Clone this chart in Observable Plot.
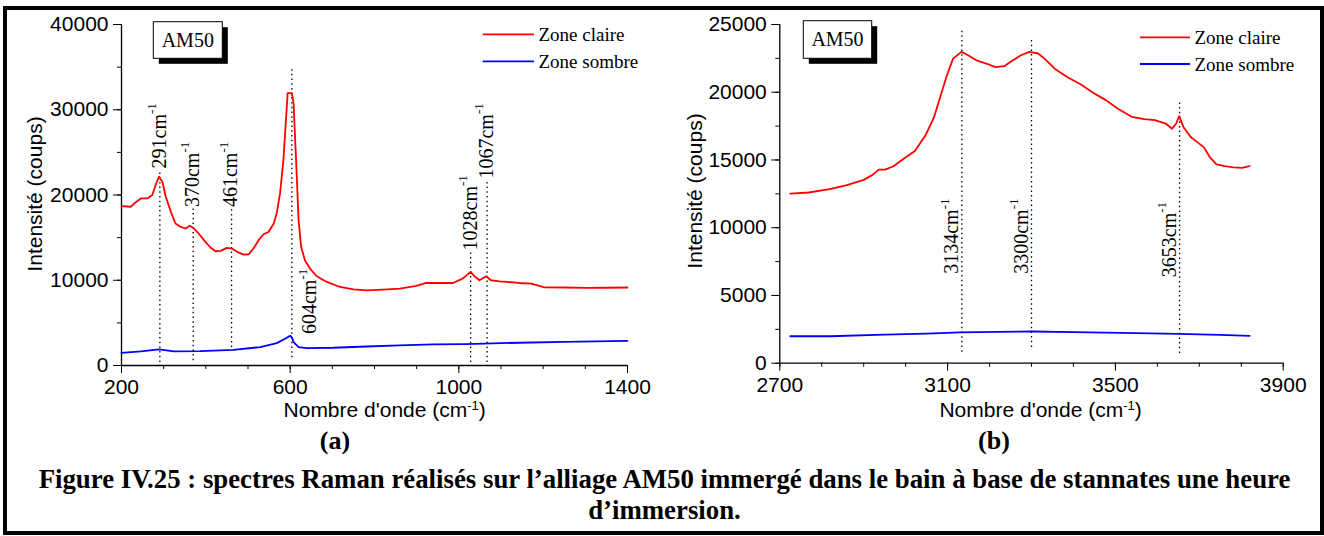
<!DOCTYPE html>
<html>
<head>
<meta charset="utf-8">
<script src="https://cdn.jsdelivr.net/npm/d3@7"></script>
<script src="https://cdn.jsdelivr.net/npm/@observablehq/plot@0.6"></script>
<style>
  body { margin: 0; background: #fff; }
  #fig { position: relative; width: 1324px; height: 536px; overflow: hidden; background: #fff; }
  #pa { position: absolute; left: 0; top: 0; width: 660px; height: 420px; }
  #pb { position: absolute; left: 660px; top: 0; width: 664px; height: 420px; }
  #over { position: absolute; left: 0; top: 0; }
  #frame { position: absolute; left: 3px; top: 6px; width: 1321px; height: 529px; border: 4px solid #000; box-sizing: border-box; }
</style>
</head>
<body>
<div id="fig">
  <div id="pa"></div>
  <div id="pb"></div>
  <svg id="over" width="1324" height="536"></svg>
  <div id="frame"></div>
</div>
<script>
// ---------- DATA ----------
// Panel (a): 200–1400 cm-1
const redA_x = [200,222,230,246,261,273,281,289,297,305,317,328,340,352,362,372,383,399,411,423,435,450,462,474,490,502,513,525,537,549,561,568,576,584,590,594,604,608,614,620,626,635,647,663,687,718,750,781,820,860,899,923,954,986,1009,1028,1037,1049,1065,1076,1096,1143,1172,1203,1250,1300,1350,1400];
const redA_y = [18700,18620,19000,19600,19600,20000,21170,22150,21560,19800,18030,16660,16270,16070,16390,16070,15480,14500,13840,13400,13450,13800,13720,13330,13010,13050,13720,14700,15400,15680,16660,17840,20190,24100,28800,31950,31950,30770,24100,17050,13900,12350,11370,10470,9800,9210,8940,8820,8900,9020,9330,9680,9680,9680,10190,10980,10470,10000,10470,10000,9880,9680,9600,9170,9150,9100,9120,9150];
const blueA_x = [200,246,289,324,387,466,529,568,588,600,604,608,620,639,702,781,860,939,1017,1143,1250,1400];
const blueA_y = [1490,1650,1880,1650,1690,1840,2160,2630,3140,3500,3300,2740,2160,2040,2080,2230,2350,2470,2510,2670,2780,2900];

// Panel (b): 2700–3900 cm-1
const redB_x = [2725,2769,2819,2860,2900,2921,2936,2951,2971,2997,3022,3047,3068,3083,3098,3113,3133,3149,3169,3194,3214,3235,3255,3275,3295,3316,3331,3356,3387,3417,3447,3478,3508,3539,3569,3594,3620,3635,3645,3652,3662,3680,3696,3711,3726,3741,3761,3782,3802,3820];
const redB_y = [12520,12600,12850,13150,13530,13900,14290,14290,14540,15120,15670,16800,18190,19700,21220,22480,22980,22730,22350,22100,21850,21920,22350,22730,22980,22860,22480,21720,21090,20590,19960,19400,18750,18190,18020,17940,17690,17310,17690,18240,17440,16680,16300,15930,15170,14670,14540,14460,14410,14540];
const blueB_x = [2725,2820,2950,3050,3130,3300,3400,3550,3650,3750,3820];
const blueB_y = [1990,1990,2115,2190,2270,2340,2290,2220,2170,2090,2020];

// Peak annotations (wavenumbers)
const peaksA = [291, 370, 461, 604, 1028, 1067];
const peaksB = [3134, 3300, 3653];

// Tick values
const xMajorA = [200, 600, 1000, 1400];
const xMinorA = d3.range(200, 1401, 100);
const yMajorA = [0, 10000, 20000, 30000, 40000];
const yMinorA = d3.range(0, 40001, 5000);
const xMajorB = [2700, 3100, 3500, 3900];
const xMinorB = d3.range(2700, 3901, 100);
const yMajorB = [0, 5000, 10000, 15000, 20000, 25000];
const yMinorB = d3.range(0, 25001, 2500);

// Texts
const legendNames = ["Zone claire", "Zone sombre"];
const seriesColors = ["#ff0000", "#0000ff"];
const xTitle = "Nombre d'onde (cm";
const yTitle = "Intensité (coups)";
const boxLabel = "AM50";
const captionLines = [
  "Figure IV.25 : spectres Raman réalisés sur l’alliage AM50 immergé dans le bain à base de stannates une heure",
  "d’immersion."
];

// ---------- LAYOUT (annotation placement, in intensity units) ----------
const labelYA = {291: 23110, 370: 18590, 461: 18590, 604: 3690, 1028: 13490, 1067: 21930};
const lineA = {291: [350, 22910], 370: [550, 18440], 461: [2100, 18440], 604: [900, 35020], 1028: [350, 13380], 1067: [350, 21730]};
const labelYB = {3134: 6600, 3300: 6600, 3653: 6350};
const lineB = {3134: [810, 24560], 3300: [1160, 23970], 3653: [716, 19390]};

const serif = "'Liberation Serif', 'Times New Roman', serif";
const sans = "'Liberation Sans', Arial, sans-serif";

const toRows = (xs, ys) => xs.map((x, i) => ({x, y: ys[i]}));
const fmt = d => String(d);

function axes(xMinor, xMajor, yMinor, yMajor, x0, y0) {
  return [
    Plot.axisX({ticks: xMinor, tickSize: 4, tickFormat: () => "", label: null, stroke: "#000"}),
    Plot.axisX({ticks: xMajor, tickSize: 8, tickPadding: 6, tickFormat: fmt, label: null, stroke: "#000", fill: "#000"}),
    Plot.axisY({ticks: yMinor, tickSize: 4, tickFormat: () => "", label: null, stroke: "#000"}),
    Plot.axisY({ticks: yMajor, tickSize: 8, tickPadding: 5, tickFormat: fmt, label: null, stroke: "#000", fill: "#000"}),
    Plot.ruleY([y0], {stroke: "#000", strokeWidth: 1.3}),
    Plot.ruleX([x0], {stroke: "#000", strokeWidth: 1.3})
  ];
}

function peakMarks(peaks, lines, labelY, dxFor) {
  const rows = peaks.map(p => ({p, y1: lines[p][0], y2: lines[p][1], ly: labelY[p], t: p + "cm"}));
  const marks = [
    Plot.ruleX(rows, {x: "p", y1: "y1", y2: "y2", stroke: "#000", strokeWidth: 1.3, strokeDasharray: "1.5,3.2"})
  ];
  const groups = d3.group(rows, r => dxFor(r.p));
  for (const [dx, g] of groups) {
    marks.push(Plot.text(g, {x: "p", y: "ly", text: "t", rotate: -90, textAnchor: "start", lineAnchor: "middle",
      dx, fontFamily: serif, fontSize: 20, fill: "#000"}));
  }
  return marks;
}

function panel(opts) {
  const svg = Plot.plot({
    width: opts.width, height: 420,
    marginLeft: opts.ml, marginRight: opts.mr, marginTop: 24, marginBottom: opts.mb,
    style: {fontFamily: sans, fontSize: "21px", color: "#000", background: "transparent", overflow: "visible"},
    x: {domain: opts.xd},
    y: {domain: opts.yd},
    marks: [
      ...axes(opts.xMinor, opts.xMajor, opts.yMinor, opts.yMajor, opts.xd[0], 0),
      ...peakMarks(opts.peaks, opts.lines, opts.labelY, opts.dxFor),
      Plot.line(opts.red, {x: "x", y: "y", stroke: seriesColors[0], strokeWidth: 1.8}),
      Plot.line(opts.blue, {x: "x", y: "y", stroke: seriesColors[1], strokeWidth: 1.8})
    ]
  });
  const s = d3.select(svg);
  // superscripts on peak labels
  s.selectAll("text").each(function() {
    const t = this.textContent;
    if (/^\d+cm$/.test(t)) {
      d3.select(this).append("tspan").attr("dy", "-0.75em").attr("font-size", 13).text("-1");
    }
  });
  // axis titles
  s.append("text").attr("transform", `translate(${opts.yt[0]},${opts.yt[1]}) rotate(-90)`)
    .attr("text-anchor", "middle").attr("font-family", sans).attr("font-size", 21).attr("fill", "#000").text(yTitle);
  const xt = s.append("text").attr("x", opts.xt[0]).attr("y", opts.xt[1])
    .attr("text-anchor", "middle").attr("font-family", sans).attr("font-size", 21).attr("fill", "#000");
  xt.append("tspan").text(xTitle);
  xt.append("tspan").attr("dy", "-0.5em").attr("font-size", 13).text("-1");
  xt.append("tspan").attr("dy", "0.31em").text(")");
  // AM50 box
  const b = opts.box;
  s.append("rect").attr("x", b[0] + 5.5).attr("y", b[1] + 5.5).attr("width", b[2]).attr("height", b[3]).attr("fill", "#000");
  s.append("rect").attr("x", b[0]).attr("y", b[1]).attr("width", b[2]).attr("height", b[3]).attr("fill", "#fff").attr("stroke", "#000").attr("stroke-width", 1);
  s.append("text").attr("x", b[0] + b[2] / 2).attr("y", b[1] + 25).attr("text-anchor", "middle")
    .attr("font-family", serif).attr("font-size", 20).attr("fill", "#000").text(boxLabel);
  // legend
  const L = opts.legend;
  legendNames.forEach((name, i) => {
    const ly = L.y[i];
    s.append("line").attr("x1", L.x1).attr("x2", L.x2).attr("y1", ly).attr("y2", ly)
      .attr("stroke", seriesColors[i]).attr("stroke-width", 1.8);
    s.append("text").attr("x", L.x2 + 4.5).attr("y", ly + 6.5).attr("text-anchor", "start")
      .attr("font-family", serif).attr("font-size", 19).attr("fill", "#000").text(name);
  });
  return svg;
}

document.getElementById("pa").appendChild(panel({
  width: 660, ml: 121, mr: 33, mb: 55,
  xd: [200, 1400], yd: [0, 40000],
  xMinor: xMinorA, xMajor: xMajorA, yMinor: yMinorA, yMajor: yMajorA,
  peaks: peaksA, lines: lineA, labelY: labelYA, dxFor: p => (p === 604 ? 18 : -0.5),
  red: toRows(redA_x, redA_y), blue: toRows(blueA_x, blueA_y),
  yt: [41.5, 194], xt: [384.7, 416.5],
  box: [153.3, 21.7, 69, 36.6],
  legend: {x1: 482.7, x2: 534, y: [34.3, 61.3]}
}));

document.getElementById("pb").appendChild(panel({
  width: 664, ml: 119.3, mr: 41.3, mb: 57.3,
  xd: [2700, 3900], yd: [0, 25000],
  xMinor: xMinorB, xMajor: xMajorB, yMinor: yMinorB, yMajor: yMajorB,
  peaks: peaksB, lines: lineB, labelY: labelYB, dxFor: () => -10,
  red: toRows(redB_x, redB_y), blue: toRows(blueB_x, blueB_y),
  yt: [42.2, 191], xt: [380.6, 416.5],
  box: [143.3, 20.7, 68.4, 37.6],
  legend: {x1: 480, x2: 530, y: [37.3, 64]}
}));

// overlay: sub-figure letters and caption
const over = d3.select("#over");
[["(a)", 335], ["(b)", 994]].forEach(([t, x]) => {
  over.append("text").attr("x", x).attr("y", 449).attr("text-anchor", "middle")
    .attr("font-family", serif).attr("font-weight", "bold").attr("font-size", 26).attr("fill", "#000").text(t);
});
captionLines.forEach((t, i) => {
  over.append("text").attr("x", 664.5).attr("y", i === 0 ? 488 : 518.5).attr("text-anchor", "middle")
    .attr("font-family", serif).attr("font-weight", "bold").attr("font-size", 26.8).attr("fill", "#000").text(t);
});
</script>
</body>
</html>
